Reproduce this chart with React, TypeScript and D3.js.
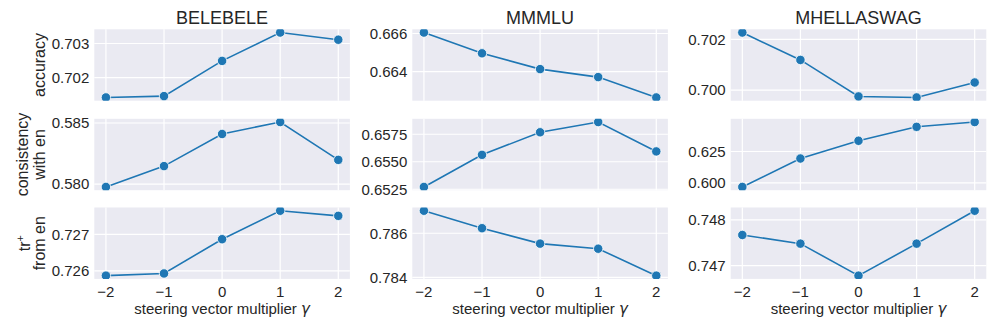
import React, { useEffect, useRef } from "react";
import * as d3 from "d3";

// steering vector multiplier gamma
const multipliers = [-2, -1, 0, 1, 2];
const datasets = ["BELEBELE", "MMMLU", "MHELLASWAG"];

// accuracy row
const belebeleAccuracy = [0.70142, 0.70146, 0.70249, 0.70332, 0.70311];
const mmmluAccuracy = [0.66605, 0.66496, 0.66413, 0.66371, 0.66264];
const mhellaswagAccuracy = [0.70227, 0.70119, 0.69975, 0.69971, 0.7003];

// consistency with en row
const belebeleConsistency = [0.57976, 0.58147, 0.5841, 0.58508, 0.58198];
const mmmluConsistency = [0.65271, 0.65563, 0.65768, 0.65861, 0.65594];
const mhellaswagConsistency = [0.5968, 0.6194, 0.6335, 0.6446, 0.6484];

// tr+ from en row
const belebeleTr = [0.72587, 0.72593, 0.72687, 0.72765, 0.72751];
const mmmluTr = [0.78702, 0.78623, 0.78553, 0.7853, 0.78408];
const mhellaswagTr = [0.74767, 0.74748, 0.74678, 0.74748, 0.7482];

// y tick values per panel
const accuracyTicks = [[0.702, 0.703], [0.664, 0.666], [0.7, 0.702]];
const consistencyTicks = [[0.58, 0.585], [0.6525, 0.655, 0.6575], [0.6, 0.625]];
const trTicks = [[0.726, 0.727], [0.784, 0.786], [0.747, 0.748]];

const W = 997;
const H = 332;
const colX = [94.3, 412.3, 730.7];
const rowY = [29.3, 118.8, 207.5];
const pw = 255.6;
const ph = 71.4;
const blue = "#1f77b4";
const textColor = "#262626";
const font = "'Liberation Sans', Arial, sans-serif";

function App() {
  const ref = useRef<SVGSVGElement>(null);

  useEffect(() => {
    drawChart();
  });

  const drawChart = () => {
    const svg = d3.select(ref.current);
    svg.selectAll("*").remove();

    const rows = [
      [belebeleAccuracy, mmmluAccuracy, mhellaswagAccuracy],
      [belebeleConsistency, mmmluConsistency, mhellaswagConsistency],
      [belebeleTr, mmmluTr, mhellaswagTr]
    ];
    const ticks = [accuracyTicks, consistencyTicks, trTicks];
    const defs = svg.append("defs");

    rows.forEach((row, r) => {
      row.forEach((values, c) => {
        const x0 = colX[c],
          y0 = rowY[r];
        const lo = d3.min(values) as number,
          hi = d3.max(values) as number,
          pad = (hi - lo) * 0.05;
        const xScale = d3.scaleLinear().domain([-2.2, 2.2]).range([x0, x0 + pw]);
        const yScale = d3.scaleLinear().domain([lo - pad, hi + pad]).range([y0 + ph, y0]);

        const id = "clip-" + r + "-" + c;
        defs
          .append("clipPath")
          .attr("id", id)
          .append("rect")
          .attr("x", x0)
          .attr("y", y0)
          .attr("width", pw)
          .attr("height", ph);

        const g = svg.append("g");
        g.append("rect")
          .attr("x", x0)
          .attr("y", y0)
          .attr("width", pw)
          .attr("height", ph)
          .attr("fill", "#eaeaf2");

        // grid
        g.selectAll(".vgrid")
          .data(multipliers)
          .enter()
          .append("line")
          .attr("x1", d => xScale(d))
          .attr("x2", d => xScale(d))
          .attr("y1", y0)
          .attr("y2", y0 + ph)
          .attr("stroke", "white")
          .attr("stroke-width", 1.2);

        const yt = ticks[r][c];
        const decimals = r === 1 && c === 1 ? 4 : 3;
        g.selectAll(".hgrid")
          .data(yt)
          .enter()
          .append("line")
          .attr("x1", x0)
          .attr("x2", x0 + pw)
          .attr("y1", d => yScale(d))
          .attr("y2", d => yScale(d))
          .attr("stroke", "white")
          .attr("stroke-width", 1.2);

        g.selectAll(".ylab")
          .data(yt)
          .enter()
          .append("text")
          .attr("x", x0 - 5)
          .attr("y", d => yScale(d))
          .attr("dy", "0.35em")
          .attr("text-anchor", "end")
          .attr("font-family", font)
          .attr("font-size", 15)
          .attr("fill", textColor)
          .text(d => d.toFixed(decimals));

        const pts = multipliers.map((m, i) => [m, values[i]] as [number, number]);
        const line = d3
          .line<[number, number]>()
          .x(d => xScale(d[0]))
          .y(d => yScale(d[1]));

        const plot = g.append("g").attr("clip-path", "url(#" + id + ")");
        plot
          .append("path")
          .datum(pts)
          .attr("d", line)
          .attr("fill", "none")
          .attr("stroke", blue)
          .attr("stroke-width", 1.6);
        plot
          .selectAll("circle")
          .data(pts)
          .enter()
          .append("circle")
          .attr("cx", d => xScale(d[0]))
          .attr("cy", d => yScale(d[1]))
          .attr("r", 4.7)
          .attr("fill", blue)
          .attr("stroke", "white")
          .attr("stroke-width", 0.8);

        if (r === 0) {
          g.append("text")
            .attr("x", x0 + pw / 2)
            .attr("y", 23.5)
            .attr("text-anchor", "middle")
            .attr("font-family", font)
            .attr("font-size", 18)
            .attr("fill", textColor)
            .text(datasets[c]);
        }

        if (r === 2) {
          g.selectAll(".xlab")
            .data(multipliers)
            .enter()
            .append("text")
            .attr("x", d => xScale(d))
            .attr("y", y0 + ph + 18)
            .attr("text-anchor", "middle")
            .attr("font-family", font)
            .attr("font-size", 15)
            .attr("fill", textColor)
            .text(d => (d < 0 ? "\u2212" + Math.abs(d) : String(d)));

          const xl = g
            .append("text")
            .attr("x", x0 + pw / 2)
            .attr("y", 313.5)
            .attr("text-anchor", "middle")
            .attr("font-family", font)
            .attr("font-size", 15)
            .attr("fill", textColor);
          xl.append("tspan").text("steering vector multiplier ");
          xl.append("tspan")
            .attr("font-style", "italic")
            .attr("font-family", "'DejaVu Sans', sans-serif")
            .text("\u03b3");
        }
      });
    });

    // row labels
    const cy = (r: number) => rowY[r] + ph / 2;
    const rowLabel = (r: number, bx: number) =>
      svg
        .append("text")
        .attr("transform", "translate(" + bx + "," + cy(r) + ") rotate(-90)")
        .attr("text-anchor", "middle")
        .attr("font-family", font)
        .attr("font-size", 16)
        .attr("fill", textColor);

    rowLabel(0, 44.5).text("accuracy");
    rowLabel(1, 27.5).text("consistency");
    rowLabel(1, 44.5).text("with en");
    const tr = rowLabel(2, 29.5);
    tr.append("tspan").text("tr");
    tr.append("tspan").attr("dy", -6).attr("font-size", 11).text("+");
    rowLabel(2, 44.5).text("from en");
  };

  return (
    <svg
      ref={ref}
      width={W}
      height={H}
      style={{ position: "absolute", left: 0, top: 0, background: "white" }}
    />
  );
}

export default App;
